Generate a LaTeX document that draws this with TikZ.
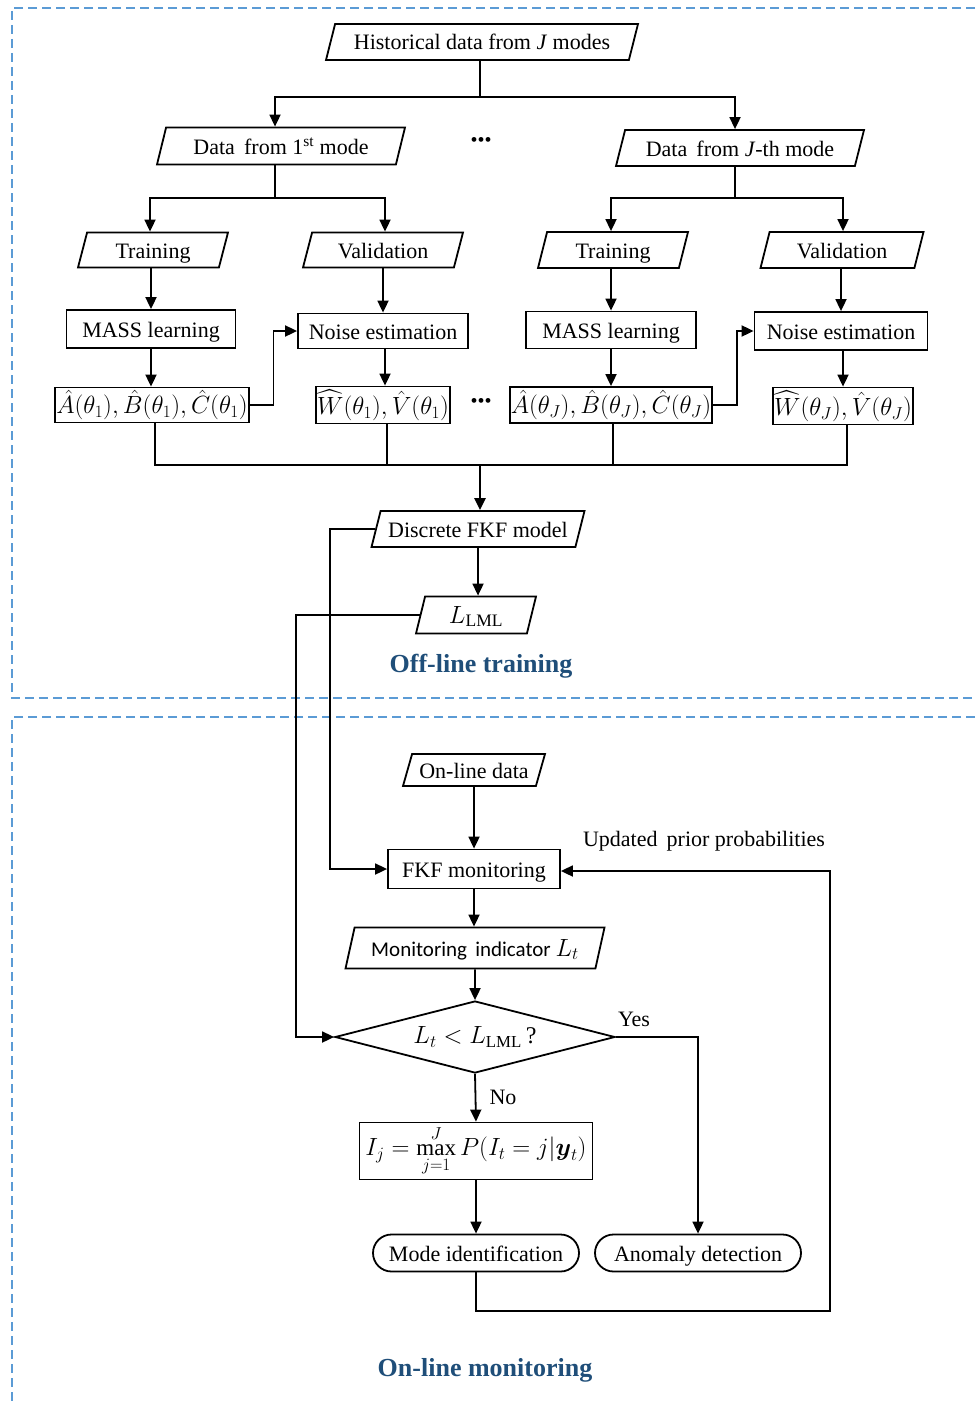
\documentclass[tikz,border=0pt]{standalone}
\usepackage{amsmath}
\usepackage{fontspec}
\setmainfont{Liberation Serif}
\newfontfamily\calfont{Carlito}
\usetikzlibrary{shapes.geometric,shapes.misc,arrows.meta}

\definecolor{framecol}{RGB}{91,155,213}
\definecolor{titlecol}{RGB}{31,78,121}

\begin{document}
\begin{tikzpicture}[x=1pt,y=-1pt,
  font=\fontsize{22}{26}\selectfont,
  line width=1.8pt,
  arr/.style={-{Triangle[length=12pt,width=11pt]}},
  frame/.style={draw=framecol,line width=2pt,dash pattern=on 9pt off 5pt},
  para/.style={draw,trapezium,trapezium left angle=72,trapezium right angle=108,
    trapezium stretches body,inner xsep=3pt,inner ysep=2pt,text height=20pt,text depth=4pt},
  box/.style={draw,rectangle,inner sep=2pt,text height=20pt,text depth=4pt},
  mbox/.style={draw,rectangle,inner xsep=1pt,inner ysep=2pt,font=\fontsize{23}{27}\selectfont},
  term/.style={draw,rounded rectangle,inner sep=2pt,minimum width=210,minimum height=37,
    text height=20pt,text depth=4pt},
  title/.style={font=\fontsize{26}{30}\selectfont\bfseries,text=titlecol},
  dots/.style={font=\fontsize{20}{24}\selectfont},
]
\useasboundingbox (0,0) rectangle (975,1402);

% dashed frames of the two stages
\draw[frame] (975,8) -- (12,8) -- (12,698) -- (975,698);
\draw[frame] (975,717) -- (12,717) -- (12,1402);

% ---------- off-line training ----------
\node[para,minimum width=312,minimum height=36] (hist) at (482,42) {Historical data from \textit{J} modes};
\node[para,minimum width=248,minimum height=37] (d1) at (281,146) {Data\, from 1\textsuperscript{st} mode};
\node[dots] (dotsA) at (481,142) {•••};
\node[para,minimum width=248,minimum height=36] (dJ) at (740,148) {Data\, from \textit{J}-th mode};

\node[para,minimum width=150,minimum height=35] (tr1) at (153,250) {Training};
\node[para,minimum width=160,minimum height=35] (va1) at (383,250) {Validation};
\node[para,minimum width=150,minimum height=36] (trJ) at (613,250) {Training};
\node[para,minimum width=163,minimum height=36] (vaJ) at (842,250) {Validation};

\node[box,minimum width=169,minimum height=38] (mass1) at (151,329) {MASS learning};
\node[box,minimum width=170,minimum height=35] (noise1) at (383,331) {Noise estimation};
\node[box,minimum width=170,minimum height=37] (massJ) at (611,330) {MASS learning};
\node[box,minimum width=173,minimum height=38] (noiseJ) at (841,331) {Noise estimation};

\node[mbox,minimum width=193,minimum height=35] (abc1) at (152,405)
  {$\hat{A}(\theta_1),\hat{B}(\theta_1),\hat{C}(\theta_1)$};
\node[mbox,minimum width=134,minimum height=37] (w1) at (383,405)
  {$\widehat{W}(\theta_1),\hat{V}(\theta_1)$};
\node[dots] (dotsB) at (481,403) {•••};
\node[mbox,minimum width=193,minimum height=36] (abcJ) at (611,405)
  {$\hat{A}(\theta_J),\hat{B}(\theta_J),\hat{C}(\theta_J)$};
\node[mbox,minimum width=134,minimum height=37] (wJ) at (843,406)
  {$\widehat{W}(\theta_J),\hat{V}(\theta_J)$};

\node[para,minimum width=213,minimum height=36] (fkfm) at (478,529) {Discrete FKF model};
\node[para,minimum width=120,minimum height=37,font=\fontsize{25}{28}\selectfont] (lml) at (476,615) {$L_{\mathrm{LML}}$};
\node[title] (offl) at (481,666) {Off-line training};

% branching from the historical data
\coordinate (j0) at (480,97);
\draw (hist.south -| j0) -- (j0);
\draw[arr] (j0) -| ([xshift=-6pt]d1.north);
\draw[arr] (j0) -| ([xshift=-5pt]dJ.north);

\coordinate (j1) at (275,198);
\draw (d1.south -| j1) -- (j1);
\draw[arr] (j1) -| ([xshift=-3pt]tr1.north);
\draw[arr] (j1) -| ([xshift=2pt]va1.north);

\coordinate (j2) at (735,198);
\draw (dJ.south -| j2) -- (j2);
\draw[arr] (j2) -| ([xshift=-2pt]trJ.north);
\draw[arr] (j2) -| ([xshift=1pt]vaJ.north);

% per-mode learning chains
\draw[arr] (mass1.north |- tr1.south) -- (mass1.north);
\draw[arr] (noise1.north |- va1.south) -- (noise1.north);
\draw[arr] (massJ.north |- trJ.south) -- (massJ.north);
\draw[arr] (noiseJ.north |- vaJ.south) -- (noiseJ.north);

\draw[arr] (mass1.south) -- (mass1.south |- abc1.north);
\draw[arr] ([xshift=2pt]noise1.south) -- ([xshift=2pt]noise1.south |- w1.north);
\draw[arr] (massJ.south) -- (massJ.south |- abcJ.north);
\draw[arr] ([xshift=2pt]noiseJ.south) -- ([xshift=2pt]noiseJ.south |- wJ.north);

\draw[arr] (abc1.east) -- ++(24,0) |- (noise1.west);
\draw[arr] (abcJ.east) -- ++(24,0) |- (noiseJ.west);

% gathering the mode models
\coordinate (j3) at (480,465);
\draw ([xshift=3pt]abc1.south) |- ([xshift=4pt]wJ.south |- j3) -- ([xshift=4pt]wJ.south);
\draw ([xshift=4pt]w1.south) -- ([xshift=4pt]w1.south |- j3);
\draw ([xshift=2pt]abcJ.south) -- ([xshift=2pt]abcJ.south |- j3);
\draw[arr,line width=2.8pt] (j3) -- (fkfm.north -| j3);

\draw[arr] (fkfm.south) -- (fkfm.south |- lml.north);

% ---------- on-line monitoring ----------
\node[para,minimum width=142,minimum height=32] (online) at (474,770) {On-line data};
\node[box,minimum width=172,minimum height=39] (fkf) at (474,869) {FKF monitoring};
\node[para,minimum width=259,minimum height=41,font=\calfont\fontsize{21}{25}\selectfont] (mi) at (475,948)
  {Monitoring\, indicator \fontsize{23}{26}\selectfont$L_t$};
\node[draw,diamond,aspect=3.9,minimum width=280,minimum height=72,inner sep=0pt,
  font=\fontsize{24}{28}\selectfont] (dia) at (475,1037)
  {$L_t < L_{\mathrm{LML}}$\,?};
\node[mbox,minimum width=233,minimum height=57] (form) at (476,1151)
  {$I_j = \max\limits_{j=1}^{J} P(I_t = j|\boldsymbol{y}_t)$};
\node[term] (mode) at (476,1253) {Mode identification};
\node[term] (anom) at (698,1253) {Anomaly detection};

\node (upd) at (704,841) {Updated\, prior probabilities};
\node (yes) at (634,1019) {Yes};
\node (no) at (503,1097) {No};
\node[title] (onl) at (485,1370) {On-line monitoring};

\draw[arr] (online.south) -- (online.south |- fkf.north);
\draw[arr] (fkf.south) -- (fkf.south |- mi.north);
\draw[arr] (mi.south) -- (dia.north);
\draw[arr] (dia.south) -- (form.north);
\draw[arr] (form.south) -- (mode.north);
\draw[arr] (dia.east) -| (anom.north);

% model and threshold carried over from training
\coordinate (c1) at (330,529);
\draw[arr] (fkfm.west) -- (fkfm.west -| c1) |- (fkf.west);
\coordinate (c2) at (296,615);
\draw[arr] (lml.west) -- (lml.west -| c2) |- (dia.west);

% feedback of updated priors
\coordinate (c3) at (830,1311);
\draw[arr] (mode.south) |- (c3) |- ([yshift=-2pt]fkf.east);
\end{tikzpicture}
\end{document}
